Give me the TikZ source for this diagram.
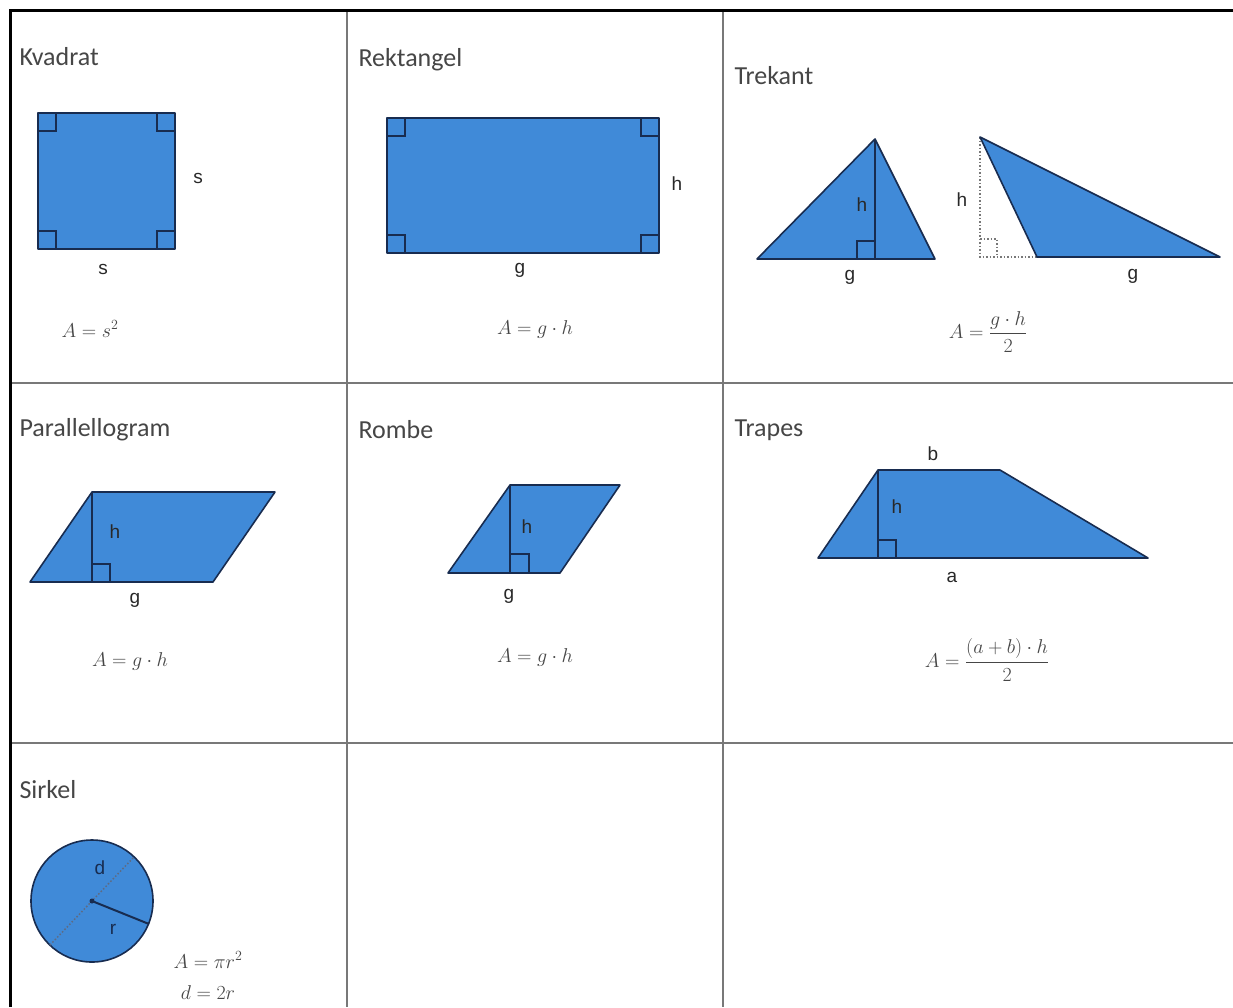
\documentclass[tikz,border=0pt]{standalone}
\usepackage{fix-cm}
\usepackage{amsmath}
\usepackage{fontspec}
\setmainfont{Carlito}
\newfontfamily\labelfont{Liberation Sans}
\usetikzlibrary{positioning}
\definecolor{figblue}{RGB}{64,138,216}
\definecolor{figline}{RGB}{24,44,80}
\definecolor{gridgrey}{RGB}{120,120,120}
\definecolor{textgrey}{RGB}{70,70,70}
\definecolor{lblgrey}{RGB}{40,40,40}

\begin{document}
\begin{tikzpicture}[x=1pt,y=-1pt,
    title/.style={anchor=west, text=textgrey, font=\fontsize{26}{28}\selectfont},
    lbl/.style={text=lblgrey, font=\labelfont\fontsize{19}{21}\selectfont},
    formula/.style={text=textgrey, font=\fontsize{20}{24}\selectfont},
    figure/.style={fill=figblue, draw=figline, line width=1.6pt, line join=round},
    rightangle/.style={draw=figline, line width=1.2pt},
    helper/.style={draw=gridgrey, line width=1.5pt, dotted}]
    \useasboundingbox (0,0) rectangle (1233,1007);
    \fill[white] (0,0) rectangle (1233,1007);

    % table
    \draw[gridgrey, line width=1.5pt] (347,10) -- (347,1007);
    \draw[gridgrey, line width=1.5pt] (723,10) -- (723,1007);
    \draw[gridgrey, line width=1.5pt] (10,383) -- (1233,383);
    \draw[gridgrey, line width=1.5pt] (10,743) -- (1233,743);
    \draw[black, line width=3pt] (10,1007) -- (10,10) -- (1233,10);

    % Kvadrat
    \node[title] (tkvadrat) at (16,57) {Kvadrat};
    \draw[figure] (38,113) rectangle (175,249);
    \draw[rightangle] (38,131) -- (56,131) -- (56,113);
    \draw[rightangle] (157,113) -- (157,131) -- (175,131);
    \draw[rightangle] (38,231) -- (56,231) -- (56,249);
    \draw[rightangle] (157,249) -- (157,231) -- (175,231);
    \node[lbl] (kvadrats1) at (198,178) {s};
    \node[lbl] (kvadrats2) at (103,269) {s};
    \node[formula] (kvadratA) at (90,329) {$A=s^2$};

    % Rektangel
    \node[title] (trektangel) at (355,60) {Rektangel};
    \draw[figure] (387,118) rectangle (659,253);
    \draw[rightangle] (387,136) -- (405,136) -- (405,118);
    \draw[rightangle] (641,118) -- (641,136) -- (659,136);
    \draw[rightangle] (387,235) -- (405,235) -- (405,253);
    \draw[rightangle] (641,253) -- (641,235) -- (659,235);
    \node[lbl] (rektangelh) at (677,184) {h};
    \node[lbl] (rektangelg) at (520,270) {g};
    \node[formula] (rektangelA) at (535,329) {$A=g\cdot h$};

    % Trekant
    \node[title] (ttrekant) at (731,76) {Trekant};
    \draw[figure] (757,259) -- (935,259) -- (875,139) -- cycle;
    \draw[rightangle] (875,139) -- (875,259);
    \draw[rightangle] (857,259) -- (857,241) -- (875,241);
    \node[lbl] (trekanth1) at (862,205) {h};
    \node[lbl] (trekantg1) at (850,277) {g};
    \draw[helper] (980,137) -- (980,257) -- (1037,257);
    \draw[helper] (980,239) -- (997,239) -- (997,257);
    \draw[figure] (980,137) -- (1037,257) -- (1220,257) -- cycle;
    \node[lbl] (trekanth2) at (962,200) {h};
    \node[lbl] (trekantg2) at (1133,276) {g};
    \node[formula] (trekantA) at (988,332) {$A=\dfrac{g\cdot h}{2}$};

    % Parallellogram
    \node[title] (tparallellogram) at (16,430) {Parallellogram};
    \draw[figure] (30,582) -- (213,582) -- (275,492) -- (92,492) -- cycle;
    \draw[rightangle] (92,492) -- (92,582);
    \draw[rightangle] (92,564) -- (110,564) -- (110,582);
    \node[lbl] (parallellogramh) at (115,532) {h};
    \node[lbl] (parallellogramg) at (135,600) {g};
    \node[formula] (parallellogramA) at (130,661) {$A=g\cdot h$};

    % Rombe
    \node[title] (trombe) at (355,430) {Rombe};
    \draw[figure] (448,573) -- (560,573) -- (620,485) -- (510,485) -- cycle;
    \draw[rightangle] (510,485) -- (510,573);
    \draw[rightangle] (510,554) -- (529,554) -- (529,573);
    \node[lbl] (rombeh) at (527,527) {h};
    \node[lbl] (rombeg) at (509,596) {g};
    \node[formula] (rombeA) at (535,657) {$A=g\cdot h$};

    % Trapes
    \node[title] (ttrapes) at (731,430) {Trapes};
    \draw[figure] (818,558) -- (1148,558) -- (1000,470) -- (878,470) -- cycle;
    \draw[rightangle] (878,470) -- (878,558);
    \draw[rightangle] (878,540) -- (896,540) -- (896,558);
    \node[lbl] (trapesh) at (897,507) {h};
    \node[lbl] (trapesb) at (933,454) {b};
    \node[lbl] (trapesa) at (952,577) {a};
    \node[formula] (trapesA) at (987,660) {$A=\dfrac{(a+b)\cdot h}{2}$};

    % Sirkel
    \node[title] (tsirkel) at (16,790) {Sirkel};
    \draw[figure] (92,901) circle[radius=61];
    \draw[helper, draw=figline!70] (50,945) -- (134,857);
    \draw[rightangle, line width=2pt] (92,901) -- (149,924);
    \fill[figline] (92,901) circle[radius=2.5];
    \node[lbl, text=figline] (sirkeld) at (100,868) {d};
    \node[lbl, text=figline] (sirkelr) at (113,929) {r};
    \node[formula] (sirkelA) at (208,960) {$A=\pi r^2$};
    \node[formula] (sirkeld2) at (208,993) {$d=2r$};
\end{tikzpicture}
\end{document}
